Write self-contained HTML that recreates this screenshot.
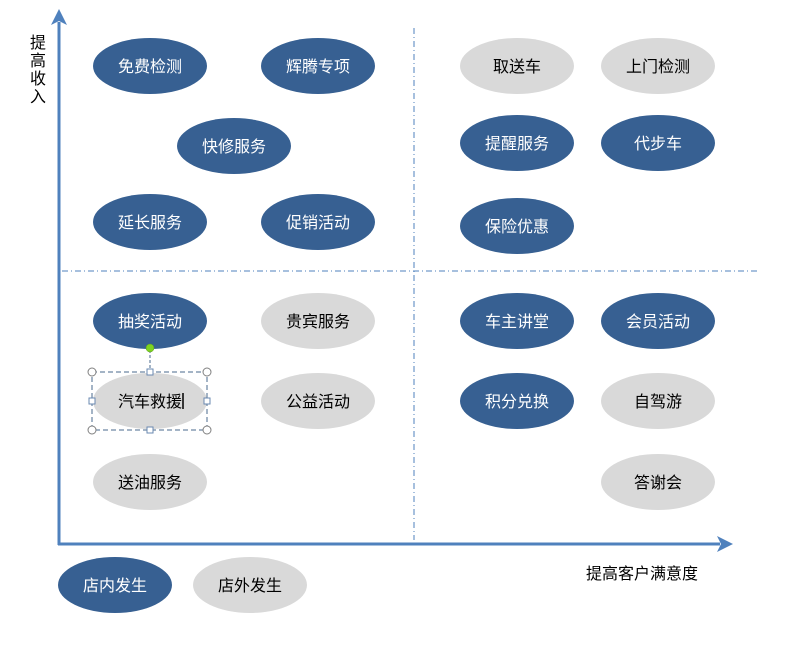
<!DOCTYPE html>
<html><head><meta charset="utf-8"><style>
html,body{margin:0;padding:0;background:#fff;}
svg{display:block;}
text{font-family:"Liberation Sans","Noto Sans CJK SC",sans-serif;font-size:16px;}
</style></head><body>
<svg width="796" height="645" viewBox="0 0 796 645" xmlns="http://www.w3.org/2000/svg">
<defs>
<radialGradient id="b" cx="50%" cy="50%" r="50%"><stop offset="80%" stop-color="#376092"/><stop offset="100%" stop-color="#3d6696"/></radialGradient>
</defs>
<!-- dashed quadrant lines -->
<line x1="414" y1="28" x2="414" y2="540" stroke="#4F81BD" stroke-width="1" stroke-dasharray="6,3,1,3"/>
<line x1="62" y1="271" x2="758" y2="271" stroke="#4F81BD" stroke-width="1" stroke-dasharray="6,3,1,3"/>
<!-- axes -->
<line x1="59" y1="545" x2="59" y2="22" stroke="#4F81BD" stroke-width="3"/>
<polygon points="59,9 51,25 59,21 67,25" fill="#4F81BD"/>
<line x1="58" y1="544" x2="720" y2="544" stroke="#4F81BD" stroke-width="3"/>
<polygon points="733,544 717,536 721,544 717,552" fill="#4F81BD"/>
<!-- axis labels -->
<g fill="#000">
<text x="30" y="48">提</text><text x="30" y="66">高</text><text x="30" y="84">收</text><text x="30" y="102">入</text>
<text x="586" y="579">提高客户满意度</text>
</g>
<g text-anchor="middle">
<!-- blue -->
<g fill="#376092">
<ellipse cx="150" cy="66" rx="57" ry="28"/><ellipse cx="318" cy="66" rx="57" ry="28"/>
<ellipse cx="234" cy="146" rx="57" ry="28"/><ellipse cx="150" cy="222" rx="57" ry="28"/>
<ellipse cx="318" cy="222" rx="57" ry="28"/><ellipse cx="517" cy="143" rx="57" ry="28"/>
<ellipse cx="658" cy="143" rx="57" ry="28"/><ellipse cx="517" cy="226" rx="57" ry="28"/>
<ellipse cx="150" cy="321" rx="57" ry="28"/><ellipse cx="517" cy="321" rx="57" ry="28"/>
<ellipse cx="658" cy="321" rx="57" ry="28"/><ellipse cx="517" cy="401" rx="57" ry="28"/>
<ellipse cx="115" cy="585" rx="57" ry="28"/>
</g>
<g fill="#D9D9D9">
<ellipse cx="517" cy="66" rx="57" ry="28"/><ellipse cx="658" cy="66" rx="57" ry="28"/>
<ellipse cx="318" cy="321" rx="57" ry="28"/><ellipse cx="150" cy="401" rx="57" ry="28"/>
<ellipse cx="318" cy="401" rx="57" ry="28"/><ellipse cx="150" cy="482" rx="57" ry="28"/>
<ellipse cx="658" cy="401" rx="57" ry="28"/><ellipse cx="658" cy="482" rx="57" ry="28"/>
<ellipse cx="250" cy="585" rx="57" ry="28"/>
</g>
<g fill="#fff">
<text x="150" y="72">免费检测</text><text x="318" y="72">辉腾专项</text>
<text x="234" y="152">快修服务</text><text x="150" y="228">延长服务</text>
<text x="318" y="228">促销活动</text><text x="517" y="149">提醒服务</text>
<text x="658" y="149">代步车</text><text x="517" y="232">保险优惠</text>
<text x="150" y="327">抽奖活动</text><text x="517" y="327">车主讲堂</text>
<text x="658" y="327">会员活动</text><text x="517" y="407">积分兑换</text>
<text x="115" y="591">店内发生</text>
</g>
<g fill="#000">
<text x="517" y="72">取送车</text><text x="658" y="72">上门检测</text>
<text x="318" y="327">贵宾服务</text><text x="150" y="407">汽车救援</text>
<text x="318" y="407">公益活动</text><text x="150" y="488">送油服务</text>
<text x="658" y="407">自驾游</text><text x="658" y="488">答谢会</text>
<text x="250" y="591">店外发生</text>
</g>
</g>
<line x1="183" y1="393" x2="183" y2="409" stroke="#000" stroke-width="1.5"/>
<!-- selection -->
<rect x="92" y="372" width="115" height="58" fill="none" stroke="#4a6a8c" stroke-width="1" stroke-dasharray="5,3"/>
<line x1="150" y1="350" x2="150" y2="372" stroke="#4a6a8c" stroke-dasharray="3,2"/>
<circle cx="150" cy="348" r="4" fill="#7ED321" stroke="#5a9a20" stroke-width="0.5"/>
<g fill="#fff" stroke="#7f7f7f" stroke-width="1">
<circle cx="92" cy="372" r="4"/><circle cx="207" cy="372" r="4"/><circle cx="92" cy="430" r="4"/><circle cx="207" cy="430" r="4"/>
</g>
<g fill="#fff" stroke="#6a88b0" stroke-width="1">
<rect x="147" y="369" width="6" height="6"/><rect x="147" y="427" width="6" height="6"/>
<rect x="89" y="398" width="6" height="6"/><rect x="204" y="398" width="6" height="6"/>
</g>
</svg>
</body></html>
